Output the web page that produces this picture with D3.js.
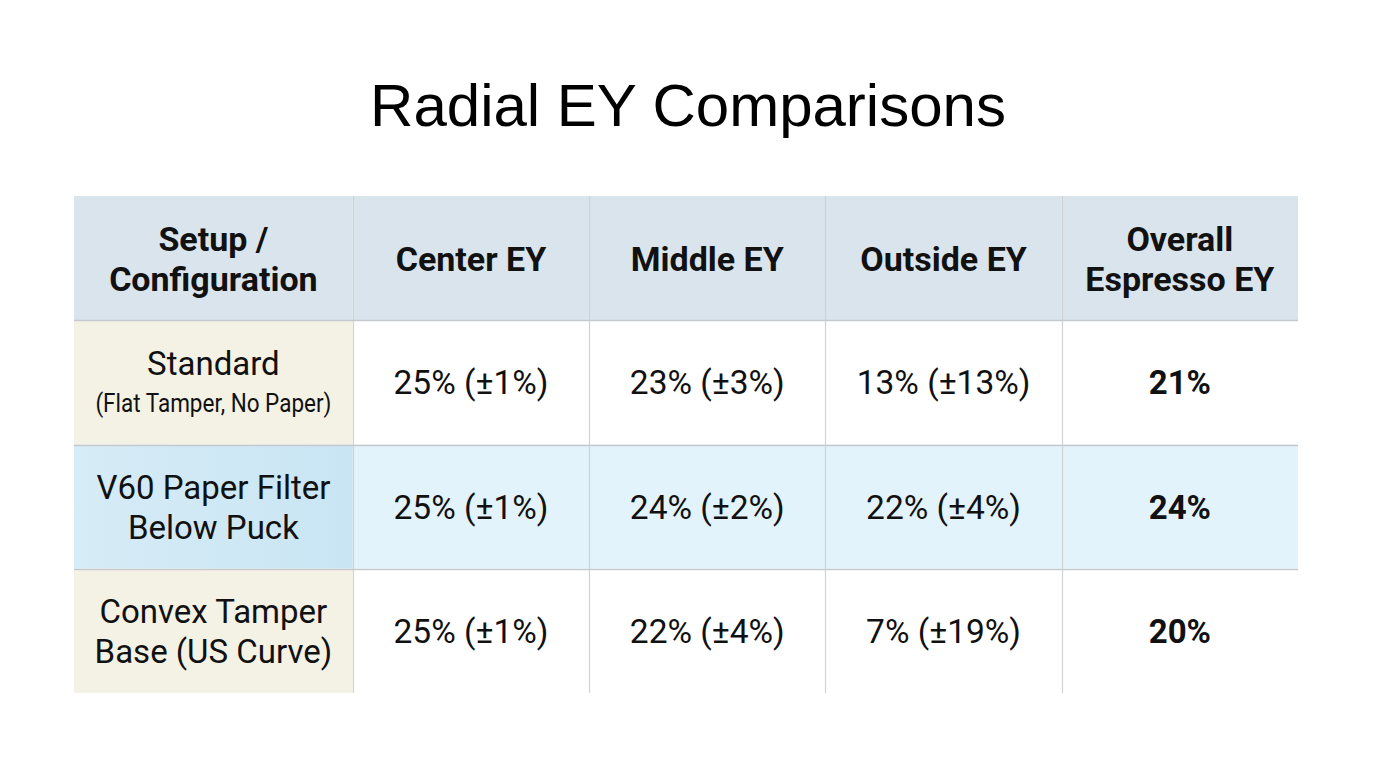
<!DOCTYPE html>
<html>
<head>
<meta charset="utf-8">
<script src="https://cdn.jsdelivr.net/npm/d3@7/dist/d3.min.js"></script>
<style>
  html, body { margin: 0; padding: 0; background: #ffffff; }
  svg { display: block; }
</style>
</head>
<body>
<svg id="chart" width="1376" height="768"></svg>
<script>
// ---- data ----
const title = "Radial EY Comparisons";
const headers = [["Setup /", "Configuration"], ["Center EY"], ["Middle EY"], ["Outside EY"], ["Overall", "Espresso EY"]];
const setups = ["Standard", "V60 Paper Filter Below Puck", "Convex Tamper Base (US Curve)"];
const setupLines = [["Standard", "(Flat Tamper, No Paper)"], ["V60 Paper Filter", "Below Puck"], ["Convex Tamper", "Base (US Curve)"]];
const centerEY = [25, 25, 25];
const centerErr = [1, 1, 1];
const middleEY = [23, 24, 22];
const middleErr = [3, 2, 4];
const outsideEY = [13, 22, 7];
const outsideErr = [13, 4, 19];
const overallEY = [21, 24, 20];

// ---- layout ----
const svg = d3.select("#chart");
const colWeights = [1.18, 1, 1, 1, 1];
const edges = [0];
colWeights.forEach(w => edges.push(edges[edges.length - 1] + w));
const x = d3.scaleLinear().domain([0, edges[edges.length - 1]]).range([74, 1298]);
const rowKeys = ["header"].concat(setups);
const y = d3.scaleBand().domain(rowKeys).range([196, 693]);

const fontCell = "Roboto, 'Liberation Sans', Arial, sans-serif";
const textColor = "#111111";

// title
svg.append("text")
  .attr("x", 688).attr("y", 126)
  .attr("text-anchor", "middle")
  .attr("font-family", "'Liberation Sans', Arial, sans-serif")
  .attr("font-size", 60)
  .attr("fill", "#000")
  .text(title);

// defs for gradient in highlighted first cell
const defs = svg.append("defs");
const g1 = defs.append("linearGradient").attr("id", "blueFirst").attr("x1", 0).attr("x2", 1).attr("y1", 0).attr("y2", 0);
g1.append("stop").attr("offset", "0%").attr("stop-color", "#d6ecf7");
g1.append("stop").attr("offset", "100%").attr("stop-color", "#c9e5f3");

// cell backgrounds
function cellFill(r, c) {
  if (r === 0) return "#d9e4ec";
  if (r === 2) return c === 0 ? "url(#blueFirst)" : "#e3f3fb";
  return c === 0 ? "#f4f1e5" : "#ffffff";
}
const cells = [];
rowKeys.forEach((rk, r) => {
  colWeights.forEach((w, c) => cells.push({ r, c, rk }));
});
svg.append("g").selectAll("rect").data(cells).join("rect")
  .attr("x", d => x(edges[d.c]))
  .attr("y", d => y(d.rk))
  .attr("width", d => x(edges[d.c + 1]) - x(edges[d.c]))
  .attr("height", y.bandwidth())
  .attr("fill", d => cellFill(d.r, d.c));

// grid lines
const grid = svg.append("g");
grid.selectAll("line.v").data(edges.slice(1, -1)).join("line")
  .attr("class", "v")
  .attr("x1", d => Math.round(x(d)) + 0.5).attr("x2", d => Math.round(x(d)) + 0.5)
  .attr("y1", y.range()[0]).attr("y2", y.range()[1])
  .attr("stroke", "#cfd3d6").attr("stroke-width", 1.2);
grid.selectAll("line.h").data(rowKeys.slice(1)).join("line")
  .attr("class", "h")
  .attr("x1", x.range()[0]).attr("x2", x.range()[1])
  .attr("y1", d => Math.round(y(d)) + 0.5).attr("y2", d => Math.round(y(d)) + 0.5)
  .attr("stroke", "#c6cacd").attr("stroke-width", 1.4);

function cx(c) { return (x(edges[c]) + x(edges[c + 1])) / 2; }
function cy(rk) { return y(rk) + y.bandwidth() / 2; }

// header text
const hdr = svg.append("g");
headers.forEach((lines, c) => {
  lines.forEach((t, i) => {
    const off = (i - (lines.length - 1) / 2) * 40;
    hdr.append("text")
      .attr("x", cx(c)).attr("y", cy("header") + off + 1)
      .attr("dy", "0.36em")
      .attr("text-anchor", "middle")
      .attr("font-family", fontCell)
      .attr("font-weight", 700)
      .attr("font-size", 34)
      .attr("fill", textColor)
      .text(t);
  });
});

// first column
const body = svg.append("g");
setups.forEach((s, r) => {
  const lines = setupLines[r];
  lines.forEach((t, i) => {
    const off = (i - (lines.length - 1) / 2) * 40;
    const isSub = (r === 0 && i === 1);
    const tx = body.append("text")
      .attr("x", cx(0)).attr("y", cy(s) + off + (r === 0 ? 1 : 0))
      .attr("dy", "0.36em")
      .attr("text-anchor", "middle")
      .attr("font-family", fontCell)
      .attr("font-size", isSub ? 25 : 33)
      .attr("fill", textColor)
      .text(t);
    if (isSub) tx.attr("textLength", 236).attr("lengthAdjust", "spacingAndGlyphs");
  });
});

// value columns
const valueCols = [
  setups.map((s, i) => `${centerEY[i]}% (±${centerErr[i]}%)`),
  setups.map((s, i) => `${middleEY[i]}% (±${middleErr[i]}%)`),
  setups.map((s, i) => `${outsideEY[i]}% (±${outsideErr[i]}%)`),
  setups.map((s, i) => `${overallEY[i]}%`)
];
valueCols.forEach((vals, k) => {
  const c = k + 1;
  vals.forEach((v, r) => {
    body.append("text")
      .attr("x", cx(c)).attr("y", cy(setups[r]))
      .attr("dy", "0.36em")
      .attr("text-anchor", "middle")
      .attr("font-family", fontCell)
      .attr("font-weight", c === 4 ? 700 : 400)
      .attr("font-size", c === 4 ? 33 : 33.5)
      .attr("fill", textColor)
      .text(v);
  });
});
</script>
</body>
</html>
